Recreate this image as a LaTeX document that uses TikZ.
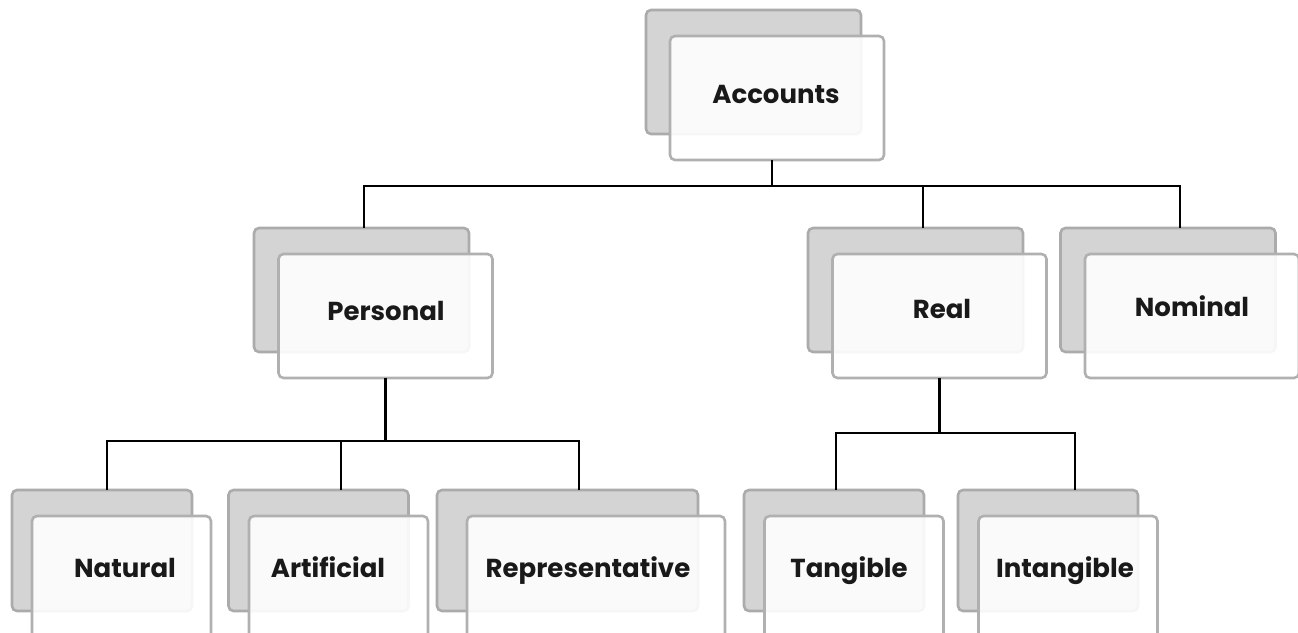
\documentclass[tikz,border=0pt]{standalone}
\usepackage{fontspec}
\setmainfont{Poppins}
\begin{document}
\begin{tikzpicture}[x=1pt,y=-1pt,
  backbox/.style={draw=black!33, fill=black!17, line width=2.6pt, rounded corners=5pt,
    minimum width=215pt, minimum height=124pt, inner sep=0pt, outer sep=0pt},
  frontbox/.style={draw=black!31, fill=white, fill opacity=0.9, line width=2.6pt, rounded corners=5pt,
    minimum width=214pt, minimum height=124pt, inner sep=0pt, outer sep=0pt},
  smallback/.style={backbox, minimum width=180pt, minimum height=121pt},
  smallfront/.style={frontbox, minimum width=179pt, minimum height=124pt},
  lbl/.style={font=\fontsize{26}{30}\selectfont\bfseries, text=black!90, inner sep=0pt, anchor=base},
  conn/.style={draw=black, line width=2.5pt}]
\useasboundingbox (0,0) rectangle (1298,632);
\begin{scope}
\clip (0,0) rectangle (1298,632);
% top level
\node[backbox] (accB) at (753.5,72) {};
\node[frontbox] (accF) at (777,98) {};
\node[lbl] (accT) at (776,103) {Accounts};
% second level
\node[backbox] (perB) at (361.5,290) {};
\node[frontbox] (perF) at (385.5,316) {};
\node[lbl] (perT) at (386,320) {Personal};
\node[backbox] (reaB) at (915.5,290) {};
\node[frontbox] (reaF) at (939.5,316) {};
\node[lbl] (reaT) at (942,318) {Real};
\node[backbox] (nomB) at (1168,290) {};
\node[frontbox] (nomF) at (1192,316) {};
\node[lbl] (nomT) at (1192,316) {Nominal};
% third level
\node[smallback] (natB) at (102,550.5) {};
\node[smallfront] (natF) at (121.5,578) {};
\node[lbl] (natT) at (125,577) {Natural};
\node[smallback] (artB) at (318.5,550.5) {};
\node[smallfront] (artF) at (338.5,578) {};
\node[lbl] (artT) at (328,577) {Artificial};
\node[smallback, minimum width=261pt] (repB) at (567.5,550.5) {};
\node[smallfront, minimum width=258pt] (repF) at (596,578) {};
\node[lbl] (repT) at (588,577) {Representative};
\node[smallback] (tanB) at (834,550.5) {};
\node[smallfront] (tanF) at (854,578) {};
\node[lbl] (tanT) at (849,577) {Tangible};
\node[smallback] (intB) at (1048,550.5) {};
\node[smallfront] (intF) at (1068,578) {};
\node[lbl] (intT) at (1065,577) {Intangible};
\end{scope}
% connectors
\coordinate (railA) at (0,186);
\coordinate (railP) at (0,441);
\coordinate (railR) at (0,433);
\draw[conn] ([xshift=-5pt]accF.south) -- ([xshift=-5pt]accF.south |- railA);
\draw[conn] ([xshift=2.5pt]perB.north) -- ([xshift=2.5pt]perB.north |- railA) -- ([xshift=12pt]nomB.north |- railA) -- ([xshift=12pt]nomB.north);
\draw[conn] ([xshift=7.5pt]reaB.north) -- ([xshift=7.5pt]reaB.north |- railA);
\draw[conn] (perF.south) -- (perF.south |- railP);
\draw[conn] ([xshift=5pt]natB.north) -- ([xshift=5pt]natB.north |- railP) -- ([xshift=11.5pt]repB.north |- railP) -- ([xshift=11.5pt]repB.north);
\draw[conn] ([xshift=22.5pt]artB.north) -- ([xshift=22.5pt]artB.north |- railP);
\draw[conn] (reaF.south) -- (reaF.south |- railR);
\draw[conn] ([xshift=2pt]tanB.north) -- ([xshift=2pt]tanB.north |- railR) -- ([xshift=27pt]intB.north |- railR) -- ([xshift=27pt]intB.north);
\end{tikzpicture}
\end{document}
